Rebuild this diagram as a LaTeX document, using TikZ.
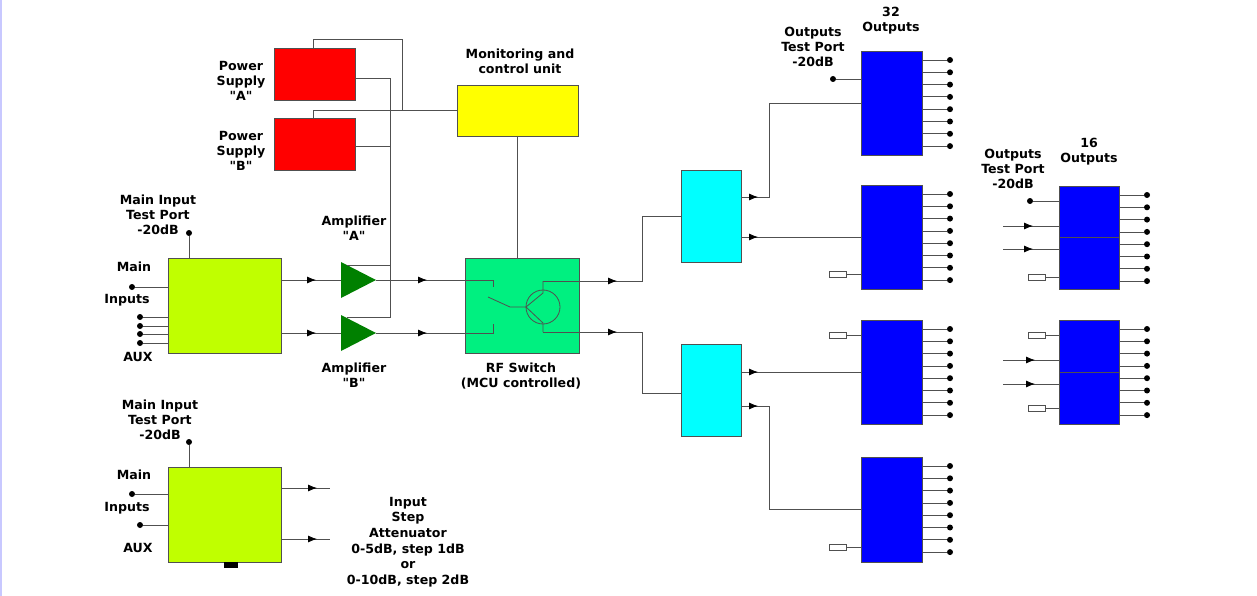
\documentclass[tikz,border=0pt]{standalone}
\usepackage{fontspec}
\setmainfont{DejaVu Sans}
\newfontfamily\plainquote{DejaVu Sans}
\usetikzlibrary{shapes.geometric,arrows.meta,positioning,calc,decorations.markings}

\definecolor{psred}{RGB}{255,0,0}
\definecolor{mcuyellow}{RGB}{255,255,0}
\definecolor{inlime}{RGB}{192,255,0}
\definecolor{swgreen}{RGB}{0,240,128}
\definecolor{ampgreen}{RGB}{0,128,0}
\definecolor{splitcyan}{RGB}{0,255,255}
\definecolor{outblue}{RGB}{0,0,255}
\definecolor{wiregray}{RGB}{80,80,80}
\definecolor{edgelilac}{RGB}{200,200,255}

% straight double quotes round a letter
\newcommand{\qtd}[1]{{\plainquote"}#1{\plainquote"}}

\tikzset{
  box/.style={draw=wiregray, line width=0.8pt, anchor=north west, inner sep=0pt, outer sep=0pt},
  wire/.style={draw=wiregray, line width=0.8pt},
  port/.style={circle, fill=black, inner sep=0pt, minimum size=6pt},
  term/.style={draw=wiregray, fill=white, line width=0.6pt, minimum width=17pt, minimum height=6pt, inner sep=0pt, anchor=west},
  amp/.style={isosceles triangle, isosceles triangle stretches, fill=ampgreen, minimum width=36pt, minimum height=35pt, inner sep=0pt, outer sep=0pt, anchor=west},
  lbl/.style={font=\fontsize{12.6}{15}\selectfont\bfseries, align=center, inner sep=0pt},
  sig/.style={postaction={decorate}, decoration={markings, mark=at position #1 with {\arrow{Latex[length=9pt,width=7pt,color=black]}}}}
}

\begin{document}
\begin{tikzpicture}[x=1pt, y=-1pt]
    % Page frame
    \useasboundingbox (0,0) rectangle (1257,596);
    \fill[white] (0,0) rectangle (1257,596);
    \fill[edgelilac] (0,0) rectangle (2,596);

    % Power supplies and monitoring unit
    \node[box, fill=psred, minimum width=81pt, minimum height=52pt] (psA) at (274,48) {};
    \node[box, fill=psred, minimum width=81pt, minimum height=52pt] (psB) at (274,118) {};
    \node[box, fill=mcuyellow, minimum width=121pt, minimum height=51pt] (mcu) at (457,85) {};
    \node[lbl] (psAlbl) at (241,81) {Power\\Supply\\\qtd{A}};
    \node[lbl] (psBlbl) at (241,151) {Power\\Supply\\\qtd{B}};
    \node[lbl] (mculbl) at (520,61) {Monitoring and\\control unit};

    % Input blocks
    \node[box, fill=inlime, minimum width=113pt, minimum height=95pt] (inA) at (168,258) {};
    \node[box, fill=inlime, minimum width=113pt, minimum height=95pt] (inB) at (168,467) {};
    \node[fill=black, minimum width=14pt, minimum height=6pt, inner sep=0pt, anchor=north] (knob) at (231,562) {};

    % Amplifiers and RF switch
    \node[amp] (ampA) at (341,280) {};
    \node[amp] (ampB) at (341,333) {};
    \node[box, fill=swgreen, minimum width=114pt, minimum height=95pt] (rfsw) at (465,258) {};
    \node[lbl] (ampAlbl) at (354,228) {Amplifier\\\qtd{A}};
    \node[lbl] (ampBlbl) at (354,375) {Amplifier\\\qtd{B}};
    \node[lbl] (rflbl) at (521,376) {RF Switch\\(MCU controlled)};

    % Splitters and output blocks
    \node[box, fill=splitcyan, minimum width=60pt, minimum height=92pt] (split1) at (681,170) {};
    \node[box, fill=splitcyan, minimum width=60pt, minimum height=92pt] (split2) at (681,344) {};
    \node[box, fill=outblue, minimum width=61pt, minimum height=104pt] (out1) at (861,51) {};
    \node[box, fill=outblue, minimum width=61pt, minimum height=104pt] (out2) at (861,185) {};
    \node[box, fill=outblue, minimum width=61pt, minimum height=104pt] (out3) at (861,320) {};
    \node[box, fill=outblue, minimum width=61pt, minimum height=105pt] (out4) at (861,457) {};
    \node[box, fill=outblue, minimum width=60pt, minimum height=103pt] (outA) at (1059,186) {};
    \node[box, fill=outblue, minimum width=60pt, minimum height=104pt] (outB) at (1059,320) {};
    \draw[wire] ($(outA.north west)+(0,51)$) -- ($(outA.north east)+(0,51)$);
    \draw[wire] ($(outB.north west)+(0,52)$) -- ($(outB.north east)+(0,52)$);

    % Power and control wiring
    \coordinate (link) at (402,39);
    \coordinate (bus) at (390,317);
    \draw[wire] ($(psA.north west)+(39,0)$) |- (link) -- (link |- mcu.west);
    \draw[wire] ($(psB.north west)+(39,0)$) |- (mcu.west);
    \draw[wire] ($(psA.east)+(0,4)$) -| (bus) -- ($(ampB.west)+(6,-16)$);
    \draw[wire] ($(psB.east)+(0,2)$) -- ++(35,0);
    \draw[wire] ($(ampA.west)+(6,-15)$) -- ++(43,0);
    \draw[wire] (mcu.south) -- (mcu.south |- rfsw.north);

    % Main input block: test port, inputs, outputs
    \node[port] (tpA) at (189,233) {};
    \draw[wire] (tpA) -- (tpA |- inA.north);
    \node[port] (mainA) at (132,287) {};
    \draw[wire] (mainA) -- (mainA -| inA.west);
    \foreach \y [count=\i] in {317,326,334,343} {
        \node[port] (auxA\i) at (140,\y) {};
        \draw[wire] (auxA\i) -- (auxA\i -| inA.west);
    }
    \node[lbl] (tpAlbl) at (158,215) {Main Input\\Test Port\\-20dB};
    \node[lbl] (mainAlbl) at (134,267) {Main};
    \node[lbl] (inpAlbl) at (127,300) {Inputs};
    \node[lbl] (auxAlbl) at (138,357) {AUX};
    \draw[wire, sig=35pt] (inA.east |- ampA.west) -- (ampA.west);
    \draw[wire, sig=35pt] (inA.east |- ampB.west) -- (ampB.west);
    \draw[wire, sig=51pt] (ampA.apex) -- (ampA.apex -| rfsw.west);
    \draw[wire, sig=51pt] (ampB.apex) -- (ampB.apex -| rfsw.west);

    % Switch symbol
    \coordinate (swT) at (543,281);
    \coordinate (swB) at (543,332);
    \coordinate (base) at (526,307);
    \coordinate (tr) at (543,307);
    \draw[wire] (ampA.apex -| rfsw.west) -- ++(28,0) -- ++(0,7);
    \draw[wire] (ampB.apex -| rfsw.west) -- ++(28,0) -- ++(0,-9);
    \draw[wire] (488,297) -- (510,307) -- (base);
    \draw[wire] (tr) circle (17);
    \draw[wire] (base) -- (543,293) -- (swT);
    \draw[wire] (base) -- (543,323) -- (swB);

    % Distribution to splitters and outputs
    \draw[wire, sig=74pt] (swT) -- ++(99,0) |- (split1.west);
    \draw[wire, sig=74pt] (swB) -- ++(99,0) |- ($(split2.west)+(0,3)$);
    \draw[wire, sig=17pt] ($(split1.east)+(0,-19)$) -- ++(28,0) |- (out1.west);
    \draw[wire, sig=17pt] (split1.east |- out2.west) -- (out2.west);
    \draw[wire, sig=17pt] (split2.east |- out3.west) -- (out3.west);
    \draw[wire, sig=17pt] ($(split2.east)+(0,16)$) -- ++(28,0) |- (out4.west);

    % Output connectors
    \foreach \b in {out1,out2,out3,out4,outA,outB}
        \foreach \k in {0,...,7} {
            \node[port] (\b-\k) at ($(\b.north east)+(28,9+12.3*\k)$) {};
            \draw[wire] (\b-\k) -- (\b-\k -| \b.east);
        }
    \foreach \b/\x/\y [count=\i] in {out2/829/274, out3/829/335, out4/829/547,
                                     outA/1028/277, outB/1028/335, outB/1028/408} {
        \node[term] (term\i) at (\x,\y) {};
        \draw[wire] (term\i) -- (term\i -| \b.west);
    }
    \node[port] (tp32) at (833,79) {};
    \draw[wire] (tp32) -- (tp32 -| out1.west);
    \node[port] (tp16) at (1030,201) {};
    \draw[wire] (tp16) -- (tp16 -| outA.west);
    \foreach \y/\p [count=\i] in {226/30pt, 249/30pt, 360/32pt, 384/32pt} {
        \coordinate (feed\i) at (1003,\y);
        \ifnum\i<3
            \draw[wire, sig=\p] (feed\i) -- (feed\i -| outA.west);
        \else
            \draw[wire, sig=\p] (feed\i) -- (feed\i -| outB.west);
        \fi
    }
    \node[lbl] (tp32lbl) at (813,47) {Outputs\\Test Port\\-20dB};
    \node[lbl] (n32lbl) at (891,21) {32\\Outputs};
    \node[lbl] (tp16lbl) at (1013,169) {Outputs\\Test Port\\-20dB};
    \node[lbl] (n16lbl) at (1089,152) {16\\Outputs};

    % Attenuator input block
    \node[port] (tpB) at (189,442) {};
    \draw[wire] (tpB) -- (tpB |- inB.north);
    \node[port] (mainB) at (132,494) {};
    \draw[wire] (mainB) -- (mainB -| inB.west);
    \node[port] (auxB) at (140,525) {};
    \draw[wire] (auxB) -- (auxB -| inB.west);
    \coordinate (attA) at (330,488);
    \coordinate (attB) at (330,539);
    \draw[wire, sig=36pt] (attA -| inB.east) -- (attA);
    \draw[wire, sig=36pt] (attB -| inB.east) -- (attB);
    \node[lbl] (tpBlbl) at (160,420) {Main Input\\Test Port\\-20dB};
    \node[lbl] (mainBlbl) at (134,475) {Main};
    \node[lbl] (inpBlbl) at (127,508) {Inputs};
    \node[lbl] (auxBlbl) at (138,548) {AUX};
    \node[lbl, font=\fontsize{12.6}{15.6}\selectfont\bfseries] (attlbl) at (408,542)
        {Input\\Step\\Attenuator\\0-5dB, step 1dB\\or\\0-10dB, step 2dB};
\end{tikzpicture}
\end{document}
